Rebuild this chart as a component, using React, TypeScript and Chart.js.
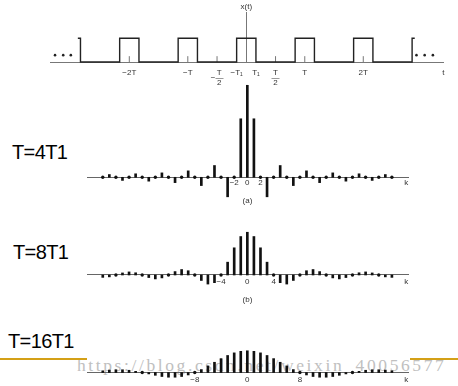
import React, { useEffect, useRef } from 'react';
import { Chart, registerables } from 'chart.js';

Chart.register(...registerables);

// ---------- data: Fourier coefficients a_k, k = -22 .. 22 ----------
const kIndex = [-22, -21, -20, -19, -18, -17, -16, -15, -14, -13, -12, -11, -10, -9, -8, -7, -6, -5, -4, -3, -2, -1, 0,
  1, 2, 3, 4, 5, 6, 7, 8, 9, 10, 11, 12, 13, 14, 15, 16, 17, 18, 19, 20, 21, 22];

const coefT4 = [0, 0.015, 0, -0.017, 0, 0.019, 0, -0.021, 0, 0.024, 0, -0.029, 0, 0.035, 0, -0.045, 0, 0.064, 0, -0.106, 0, 0.318, 0.5,
  0.318, 0, -0.106, 0, 0.064, 0, -0.045, 0, 0.035, 0, -0.029, 0, 0.024, 0, -0.021, 0, 0.019, 0, -0.017, 0, 0.015, 0];

const coefT8 = [-0.014, -0.011, 0, 0.012, 0.018, 0.013, 0, -0.015, -0.023, -0.017, 0, 0.02, 0.032, 0.025, 0, -0.032, -0.053, -0.045, 0, 0.075, 0.159, 0.225, 0.25,
  0.225, 0.159, 0.075, 0, -0.045, -0.053, -0.032, 0, 0.025, 0.032, 0.02, 0, -0.017, -0.023, -0.015, 0, 0.013, 0.018, 0.012, 0, -0.011, -0.014];

const coefT16 = [0.01, 0.014, 0.016, 0.016, 0.013, 0.007, 0, -0.008, -0.016, -0.023, -0.027, -0.027, -0.023, -0.014, 0, 0.017, 0.038, 0.059, 0.08, 0.098, 0.113, 0.122, 0.125,
  0.122, 0.113, 0.098, 0.08, 0.059, 0.038, 0.017, 0, -0.014, -0.023, -0.027, -0.027, -0.023, -0.016, -0.008, 0, 0.007, 0.013, 0.016, 0.016, 0.014, 0.01];

const kTicks4 = [-2, 0, 2];
const kTicks8 = [-4, 0, 4];
const kTicks16 = [-8, 0, 8];
const kAxisName = 'k';
const kAxisNameAt = 24.2;

const panelNames = ['T=4T1', 'T=8T1', 'T=16T1'];
const captions = ['(a)', '(b)', ''];

// ---------- data: periodic square wave x(t), t in units of T ----------
const waveT = [-2.88, -2.835, -2.835, -2.165, -2.165, -1.835, -1.835, -1.165, -1.165, -0.835, -0.835, -0.165, -0.165,
  0.165, 0.165, 0.835, 0.835, 1.165, 1.165, 1.835, 1.835, 2.165, 2.165, 2.835, 2.835, 2.88];
const waveX = [1, 1, 0, 0, 1, 1, 0, 0, 1, 1, 0, 0, 1,
  1, 0, 0, 1, 1, 0, 0, 1, 1, 0, 0, 1, 1];

const tTickValues = [-2, -1, -0.5, -0.165, 0.165, 0.5, 1, 2];
const tTickLabels: (string | string[])[] = ['\u22122T', '\u2212T', ['\u00a0\u00a0T', '\u2212\u2014', '\u00a0\u00a02'], '\u2212T\u2081', 'T\u2081', ['T', '\u2014', '2'], 'T', '2T'];
const tTickMarks = [-2, -1, -0.5, 0.5, 1, 2];
const tAxisName = 't';
const tAxisNameAt = 3.37;
const ellipsisT = [-3.27, -3.13, -3.0, 2.91, 3.05, 3.19];
const ellipsisX = [0.29, 0.29, 0.29, 0.29, 0.29, 0.29];
const signalName = 'x(t)';

const FONT = '"Liberation Sans", Arial, sans-serif';

function WavePanel() {
  const ref = useRef<HTMLCanvasElement>(null);
  useEffect(() => {
    const labelPlugin = {
      id: 'signalName',
      afterDraw(chart: any) {
        const { ctx, chartArea, scales } = chart;
        ctx.save();
        ctx.font = `8px ${FONT}`;
        ctx.fillStyle = '#333';
        ctx.textAlign = 'center';
        ctx.textBaseline = 'middle';
        ctx.fillText(signalName, scales.x.getPixelForValue(0), chartArea.top - 5);
        ctx.restore();
      },
    };
    const chart = new Chart(ref.current!, {
      type: 'scatter',
      data: {
        datasets: [
          {
            data: waveT.map((t, i) => ({ x: t, y: waveX[i] })),
            showLine: true,
            borderColor: '#222',
            borderWidth: 1.4,
            pointRadius: 0,
            tension: 0,
            clip: false,
          } as any,
          {
            data: tTickMarks.map((t) => ({ x: t, y: 0.12 })),
            pointStyle: 'line',
            pointRotation: 90,
            pointRadius: 3,
            borderColor: '#777',
            borderWidth: 1,
            clip: false,
          } as any,
          {
            data: ellipsisT.map((t, i) => ({ x: t, y: ellipsisX[i] })),
            pointRadius: 1.3,
            backgroundColor: '#222',
            borderWidth: 0,
            clip: false,
          } as any,
        ],
      },
      options: {
        responsive: false,
        animation: false,
        events: [],
        layout: { padding: { left: 50, right: 14.6, top: 12, bottom: 28 } },
        plugins: { legend: { display: false }, tooltip: { enabled: false } },
        scales: {
          x: {
            type: 'linear',
            min: -3.356,
            max: tAxisNameAt,
            position: { y: 0 } as any,
            grid: { display: false, drawTicks: false },
            border: { display: true, color: '#777', width: 1 },
            afterBuildTicks: (s: any) => {
              s.ticks = [...tTickValues.map((v) => ({ value: v })), { value: tAxisNameAt }];
            },
            ticks: {
              autoSkip: false,
              maxRotation: 0,
              padding: 8,
              color: '#333',
              font: { family: FONT, size: 8, lineHeight: 0.65 },
              callback: (v: any, i: number) => (i < tTickLabels.length ? tTickLabels[i] : tAxisName),
            },
          },
          y: {
            type: 'linear',
            min: 0,
            max: 2.11,
            position: { x: 0 } as any,
            ticks: { display: false },
            grid: { display: false, drawTicks: false },
            border: { display: true, color: '#777', width: 1 },
          },
        },
      },
      plugins: [labelPlugin],
    } as any);
    return () => chart.destroy();
  }, []);
  return <canvas ref={ref} width={458} height={90} style={{ position: 'absolute', left: 0, top: 0 }} />;
}

type StemProps = {
  values: number[];
  ticks: number[];
  caption: string;
  top: number;
  height: number;
  padTop: number;
  padBottom: number;
  yMin: number;
  yMax: number;
  tickPad: number;
  titlePad: number;
};

function StemPanel(p: StemProps) {
  const ref = useRef<HTMLCanvasElement>(null);
  useEffect(() => {
    const pts = kIndex.map((k, i) => ({ x: k, y: p.values[i] }));
    const chart = new Chart(ref.current!, {
      type: 'bar',
      data: {
        datasets: [
          {
            type: 'bar',
            data: pts.filter((d) => d.y !== 0),
            backgroundColor: '#111',
            borderWidth: 0,
            barThickness: 2,
            clip: false,
          } as any,
          {
            type: 'scatter',
            data: pts.filter((d) => d.y === 0),
            pointRadius: 1.7,
            backgroundColor: '#111',
            borderWidth: 0,
            clip: false,
          } as any,
        ],
      },
      options: {
        responsive: false,
        animation: false,
        events: [],
        layout: { padding: { left: 87, right: 50, top: p.padTop, bottom: p.padBottom } },
        plugins: { legend: { display: false }, tooltip: { enabled: false } },
        scales: {
          x: {
            type: 'linear',
            min: -24.4,
            max: 24.45,
            offset: false,
            position: { y: 0 } as any,
            grid: { display: false, drawTicks: false },
            border: { display: true, color: '#666', width: 1 },
            afterBuildTicks: (s: any) => {
              s.ticks = [...p.ticks.map((v) => ({ value: v })), { value: kAxisNameAt }];
            },
            ticks: {
              autoSkip: false,
              maxRotation: 0,
              padding: p.tickPad,
              color: '#333',
              font: { family: FONT, size: 8, lineHeight: 1.2 },
              callback: (v: any) =>
                v === kAxisNameAt ? kAxisName : v < 0 ? '\u2212' + Math.abs(v) : String(v),
            },
            title: {
              display: !!p.caption,
              text: p.caption,
              color: '#333',
              font: { family: FONT, size: 8, lineHeight: 1.2 },
              padding: { top: p.titlePad, bottom: 0 },
            },
          },
          y: { type: 'linear', display: false, min: p.yMin, max: p.yMax },
        },
      },
    } as any);
    return () => chart.destroy();
  }, []);
  return <canvas ref={ref} width={458} height={p.height} style={{ position: 'absolute', left: 0, top: p.top }} />;
}

const nameStyle: React.CSSProperties = {
  position: 'absolute',
  fontFamily: FONT,
  fontSize: 20,
  lineHeight: '20px',
  letterSpacing: '-0.6px',
  color: '#000',
  whiteSpace: 'nowrap',
};

export default function App() {
  return (
    <div
      style={{
        position: 'fixed',
        left: 0,
        top: 0,
        width: 458,
        height: 386,
        background: '#fff',
        overflow: 'hidden',
      }}
    >
      <div
        style={{
          position: 'absolute',
          left: 77,
          top: 356,
          fontFamily: '"Liberation Serif", "Times New Roman", serif',
          fontSize: 17.5,
          lineHeight: '18px',
          letterSpacing: '2.6px',
          color: '#c0c0c0',
          whiteSpace: 'nowrap',
        }}
      >
        https://blog.csdn.net/weixin_40056577
      </div>
      <div style={{ position: 'absolute', left: 0, top: 358, width: 87, height: 2, background: '#d4a017' }} />
      <div style={{ position: 'absolute', left: 410, top: 358, width: 48, height: 2, background: '#d4a017' }} />

      <div style={{ ...nameStyle, left: 12, top: 142 }}>{panelNames[0]}</div>
      <div style={{ ...nameStyle, left: 13, top: 242 }}>{panelNames[1]}</div>
      <div style={{ ...nameStyle, left: 8, top: 331 }}>{panelNames[2]}</div>

      <WavePanel />
      <StemPanel values={coefT4} ticks={kTicks4} caption={captions[0]} top={80} height={130}
        padTop={4} padBottom={10} yMin={-0.1234} yMax={0.507} tickPad={1} titlePad={7} />
      <StemPanel values={coefT8} ticks={kTicks8} caption={captions[1]} top={210} height={100}
        padTop={15} padBottom={15} yMin={-0.117} yMax={0.2924} tickPad={2} titlePad={6.6} />
      <StemPanel values={coefT16} ticks={kTicks16} caption={captions[2]} top={310} height={76}
        padTop={30} padBottom={3} yMin={-0.0545} yMax={0.187} tickPad={2.6} titlePad={0} />
    </div>
  );
}
